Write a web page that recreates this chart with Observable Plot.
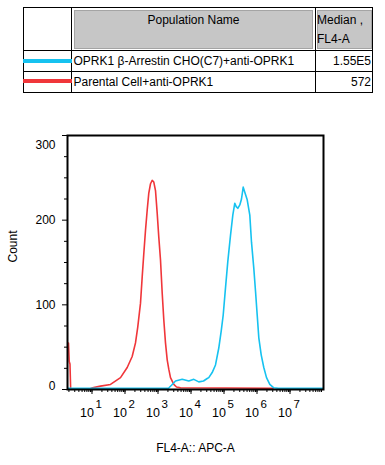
<!DOCTYPE html>
<html>
<head>
<meta charset="utf-8">
<script src="https://cdn.jsdelivr.net/npm/d3@7"></script>
<script src="https://cdn.jsdelivr.net/npm/@observablehq/plot@0.6"></script>
<style>
  html, body { margin: 0; padding: 0; background: white; }
  body { width: 385px; height: 465px; overflow: hidden; font-family: "Liberation Sans", Arial, sans-serif; }
  #legend { position: relative; width: 385px; height: 100px; font-size: 12px; color: black; }
  #legend div { position: absolute; box-sizing: border-box; }
  .hl { height: 1px; background: black; }
  .vl { width: 1px; background: black; }
  .gray { background: #c6c6c6; border: 1px solid #a4a4a4; }
  .t { white-space: nowrap; line-height: 14px; }
</style>
</head>
<body>
<div id="legend"></div>
<div id="chart"></div>
<script>
// ---- data ----
const seriesNames = ["OPRK1 β-Arrestin CHO(C7)+anti-OPRK1", "Parental Cell+anti-OPRK1"];
const seriesMedians = ["1.55E5", "572"];
const seriesColors = ["#16c2f0", "#f0363a"];
const tableHeaders = ["Population Name", "Median ,", "FL4-A"];

// Parental (red) histogram: intensity (FL4-A) and count
const redIntensity = [1.94, 2.04, 2.15, 2.26, 7.8, 10.4, 18.1, 36.4, 73.1, 116.7, 165, 208, 244, 295, 332, 372, 418, 471, 526, 593, 667, 746, 840, 946, 1057, 1191, 1340, 1500, 1687, 1900, 2123, 2392, 3013, 3637, 4813, 2.95e6, 3.16e6];
const redCount     = [55,   33,   30,   0,    0,   2,    4,    6,    14,   26,    39,  55,  74,  102, 133, 161, 188, 212, 232, 243, 247, 245, 235, 208, 180,  153,  114,  82,   55,   35,   24,   14,   6,    3,    2,    1.5,    0];

// OPRK1 β-Arrestin (cyan) histogram
const blueIntensity = [1.81, 2080, 2564, 3388, 5408, 8570, 12160, 17220, 23920, 30970, 34590, 43850, 55210, 69500, 82220, 94620, 1.11e5, 1.303e5, 1.574e5, 1.849e5, 2.124e5, 2.344e5, 2.62e5, 3.013e5, 3.388e5, 3.819e5, 4.266e5, 5.047e5, 6.053e5, 6.808e5, 8.0e5, 9.016e5, 1.014e6, 1.135e6, 1.34e6, 1.607e6, 1.941e6, 2.443e6, 3.228e6, 4.487e6, 1.035e8];
const blueCount     = [1.5,  1.5,  5,    10,   12,   10,   12,    9,     10,    13,    14,    20,    29,    49,    69,    88,    120,    151,    182,    206,    220,    216,    214,    218,    225,    239,    233,    224,    206,    174,    143,   116,    88,     61,     41,    26,     14,     6,      2,      1.5,    1.5];

const xDomain = [1.81, 1.035e8];
const yDomain = [0, 300];
const decadeExponents = [1, 2, 3, 4, 5, 6, 7];
const yMajorTicks = [0, 100, 200, 300];
const yMinorTicks = [25, 50, 75, 125, 150, 175, 225, 250, 275];
const xTitle = "FL4-A:: APC-A";
const yTitle = "Count";

// ---- legend table (HTML) ----
const L = document.getElementById("legend");
function box(cls, l, t, w, h, extra) {
  const d = document.createElement("div");
  d.className = cls;
  d.style.left = l + "px"; d.style.top = t + "px";
  if (w != null) d.style.width = w + "px";
  if (h != null) d.style.height = h + "px";
  if (extra) Object.assign(d.style, extra);
  L.appendChild(d);
  return d;
}
function txt(s, l, t, extra) {
  const d = box("t", l, t, null, null, extra);
  d.textContent = s;
  return d;
}
box("gray", 74, 10, 239, 39);
box("gray", 317, 10, 55, 39);
box("hl", 23, 7, 350, 1);
box("hl", 23, 92, 350, 1);
box("hl", 23, 50, 350, 1);
box("hl", 23, 71, 350, 1);
box("vl", 23, 7, 1, 86);
box("vl", 372, 7, 1, 86);
box("vl", 71, 7, 1, 86);
box("vl", 315, 7, 1, 86);
txt(tableHeaders[0], 74, 13, {width: "239px", textAlign: "center"});
txt(tableHeaders[1], 317, 13);
txt(tableHeaders[2], 317, 32);
box("", 23, 59, 49, 4, {background: seriesColors[0]});
box("", 23, 79, 49, 4, {background: seriesColors[1]});
txt(seriesNames[0], 73.5, 54);
txt(seriesNames[1], 73.5, 75);
txt(seriesMedians[0], 300, 54, {width: "71px", textAlign: "right"});
txt(seriesMedians[1], 300, 75, {width: "71px", textAlign: "right"});

// ---- chart ----
const red = redIntensity.map((x, i) => ({x, y: redCount[i]}));
const blue = blueIntensity.map((x, i) => ({x, y: blueCount[i]}));
const xMinor = [];
for (let e = 0; e <= 7; e++) for (let k = 1; k <= 9; k++) {
  const v = k * 10 ** e;
  if (v >= xDomain[0] && v <= xDomain[1]) xMinor.push(v);
}
const xMajor = decadeExponents.map(e => 10 ** e);

const chart = Plot.plot({
  width: 385,
  height: 365,
  marginTop: 35,
  marginBottom: 76,
  marginLeft: 67,
  marginRight: 62,
  style: {fontFamily: '"Liberation Sans", Arial, sans-serif', fontSize: "11px", color: "black", background: "white"},
  x: {type: "log", domain: xDomain},
  y: {type: "linear", domain: yDomain},
  marks: [
    Plot.line(red, {x: "x", y: "y", stroke: seriesColors[1], strokeWidth: 1.6, clip: true}),
    Plot.line(blue, {x: "x", y: "y", stroke: seriesColors[0], strokeWidth: 1.6, clip: true}),
    Plot.frame({stroke: "black", strokeWidth: 2}),
    Plot.axisY({ticks: yMinorTicks, tickSize: 3, tickFormat: () => "", label: null}),
    Plot.axisY({ticks: yMajorTicks, tickSize: 5, tickFormat: () => "", label: null}),
    Plot.axisX({ticks: xMinor, tickSize: 3, tickFormat: () => "", label: null}),
    Plot.axisX({ticks: xMajor, tickSize: 5, tickFormat: () => "", label: null}),
    Plot.text(yMajorTicks.filter(d => d === 100 || d === 200), {y: d => d, text: d => String(d), frameAnchor: "left", textAnchor: "end", dx: -12, fontSize: 12}),
    Plot.text(yMajorTicks.filter(d => d === 300), {y: d => d, text: d => String(d), frameAnchor: "left", textAnchor: "end", dx: -12, dy: 10, fontSize: 12}),
    Plot.text(yMajorTicks.filter(d => d === 0), {y: d => d, text: d => String(d), frameAnchor: "left", textAnchor: "end", dx: -12, dy: -3, fontSize: 12}),
    Plot.text(decadeExponents, {x: d => 10 ** d, text: () => "10", frameAnchor: "bottom", textAnchor: "end", lineAnchor: "middle", dx: 2, dy: 23.5, fontSize: 12.5}),
    Plot.text(decadeExponents, {x: d => 10 ** d, text: d => String(d), frameAnchor: "bottom", textAnchor: "start", lineAnchor: "middle", dx: 3.5, dy: 14.5, fontSize: 11.5}),
    Plot.text([yTitle], {text: d => d, frameAnchor: "left", rotate: -90, dx: -54.5, fontSize: 12}),
    Plot.text([xTitle], {text: d => d, frameAnchor: "bottom", lineAnchor: "middle", dy: 59, fontSize: 12})
  ]
});
document.getElementById("chart").appendChild(chart);
</script>
</body>
</html>
